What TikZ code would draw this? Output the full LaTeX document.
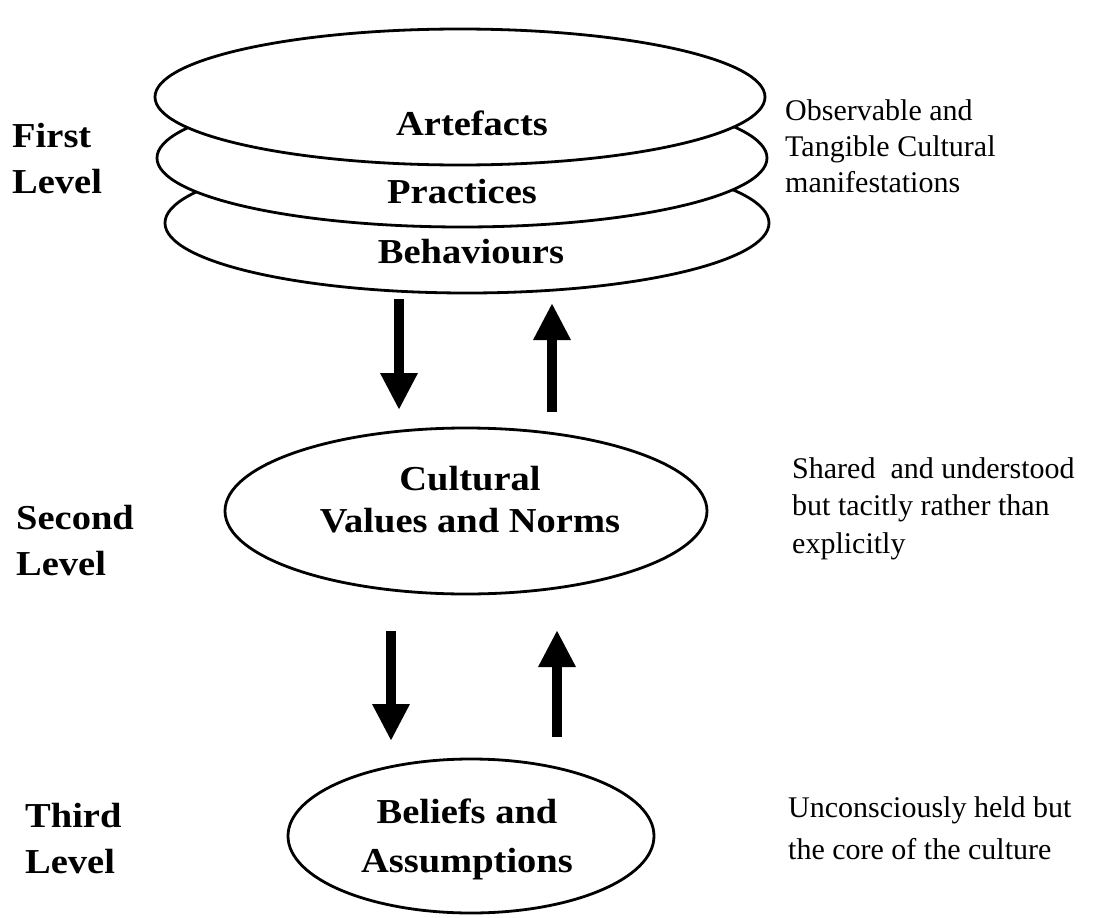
\documentclass[tikz,border=0pt]{standalone}
\usepackage{fontspec}
\setmainfont{Liberation Serif}
\newfontfamily\lblfont{Liberation Serif}[FakeStretch=1.1]
\usetikzlibrary{shapes.geometric,arrows.meta}
\begin{document}
\begin{tikzpicture}[x=1pt,y=-1pt,
  layer/.style={draw, line width=2.8pt, fill=white, ellipse, inner sep=0pt},
  lbl/.style={font=\lblfont\bfseries\fontsize{35}{46}\selectfont, inner sep=0pt, anchor=base},
  lvl/.style={font=\lblfont\bfseries\fontsize{35}{46}\selectfont, inner sep=0pt, anchor=base west, align=left},
  note/.style={font=\fontsize{30}{36}\selectfont, inner sep=0pt, anchor=base west, align=left},
  flow/.style={line width=10pt, -{Triangle[length=37pt,width=35pt]}}]
\useasboundingbox (0,0) rectangle (1093,918);
% first level stack
\node[layer, minimum width=604pt, minimum height=140pt] (beh) at (467,223) {};
\node[layer, minimum width=610pt, minimum height=138pt] (pra) at (462,158) {};
\node[layer, minimum width=610pt, minimum height=136pt] (art) at (460,97) {};
\node[lbl] (tart) at (472,135) {Artefacts};
\node[lbl] (tpra) at (462,203) {Practices};
\node[lbl] (tbeh) at (471,263) {Behaviours};
% second level
\node[layer, minimum width=482pt, minimum height=166pt] (cvn) at (466,511) {};
\node[lbl, align=center, font=\lblfont\bfseries\fontsize{35}{42}\selectfont] (tcvn) at (470,532) {Cultural\\Values and Norms};
% third level
\node[layer, minimum width=366pt, minimum height=154pt] (baa) at (471,836) {};
\node[lbl, align=center, font=\lblfont\bfseries\fontsize{35}{49}\selectfont] (tbaa) at (467,872) {Beliefs and\\Assumptions};
% level labels
\node[lvl] (l1) at (12,193) {First\\Level};
\node[lvl] (l2) at (16,575) {Second\\Level};
\node[lvl] (l3) at (25,873) {Third\\Level};
% notes
\node[note] (n1) at (785,192) {Observable and\\Tangible Cultural\\manifestations};
\node[note, font=\fontsize{30}{37.5}\selectfont] (n2) at (792,553) {Shared\ \ and understood\\but tacitly rather than\\explicitly};
\node[note, font=\fontsize{30}{42}\selectfont] (n3) at (788,859) {Unconsciously held but\\the core of the culture};
% arrows
\coordinate (d1s) at (399,299); \coordinate (d1e) at (399,410);
\coordinate (u1s) at (552,412); \coordinate (u1e) at (552,303);
\coordinate (d2s) at (391,631); \coordinate (d2e) at (391,741);
\coordinate (u2s) at (557,737); \coordinate (u2e) at (557,630);
\draw[flow] (d1s) -- (d1e);
\draw[flow] (u1s) -- (u1e);
\draw[flow] (d2s) -- (d2e);
\draw[flow] (u2s) -- (u2e);
\end{tikzpicture}
\end{document}
